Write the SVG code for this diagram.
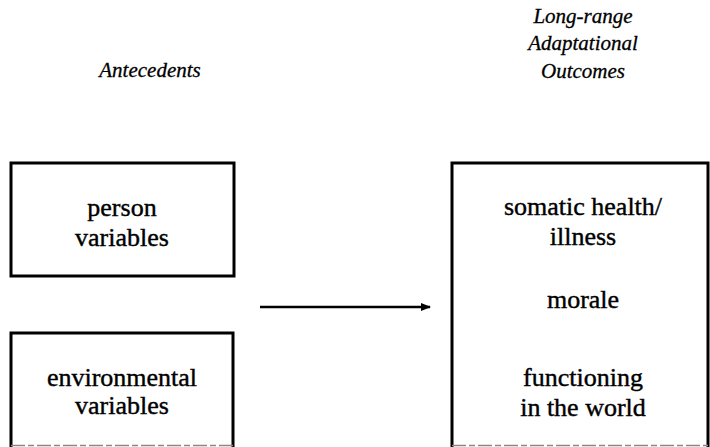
<svg xmlns="http://www.w3.org/2000/svg" width="710" height="447" viewBox="0 0 710 447">
<style>
.box{fill:none;stroke:#000;stroke-width:3}
.faint{fill:none;stroke:#888;stroke-width:1.5;stroke-dasharray:14 3 6 3}
.t{font-family:"Liberation Serif","DejaVu Serif",serif;font-size:26px;fill:#000;stroke:#000;stroke-width:0.4;text-anchor:middle}
.h{font-family:"Liberation Serif","DejaVu Serif",serif;font-style:italic;font-size:21px;fill:#000;stroke:#000;stroke-width:0.3;text-anchor:middle}
.c{stroke:#000;stroke-width:2.5;fill:none}
</style>
<defs>
<marker id="ah" markerWidth="10" markerHeight="8" refX="9" refY="4" orient="auto" markerUnits="userSpaceOnUse">
<path d="M0,0 L10,4 L0,8 Z" fill="#000"/>
</marker>
</defs>
<g id="header-antecedents">
<text class="h" x="150" y="77">Antecedents</text>
</g>
<g id="header-outcomes">
<text class="h" x="583" y="23">Long-range</text>
<text class="h" x="583" y="50">Adaptational</text>
<text class="h" x="583" y="78">Outcomes</text>
</g>
<g id="person-variables">
<rect class="box" x="11" y="163" width="223" height="113"/>
<text class="t" x="122" y="216">person</text>
<text class="t" x="122" y="246">variables</text>
</g>
<g id="environmental-variables">
<path class="box" d="M11,447 L11,333 L233,333 L233,447"/>
<line class="faint" x1="11" y1="445.5" x2="233" y2="445.5"/>
<text class="t" x="122" y="386">environmental</text>
<text class="t" x="122" y="414">variables</text>
</g>
<g id="outcomes">
<path class="box" d="M452,447 L452,163 L708,163 L708,447"/>
<line class="faint" x1="452" y1="445.5" x2="708" y2="445.5"/>
<text class="t" x="583" y="215">somatic health/</text>
<text class="t" x="583" y="245">illness</text>
<text class="t" x="583" y="308">morale</text>
<text class="t" x="583" y="386">functioning</text>
<text class="t" x="583" y="416">in the world</text>
</g>
<g id="connectors">
<line class="c" x1="260" y1="307" x2="430" y2="307" marker-end="url(#ah)"/>
</g>
</svg>
